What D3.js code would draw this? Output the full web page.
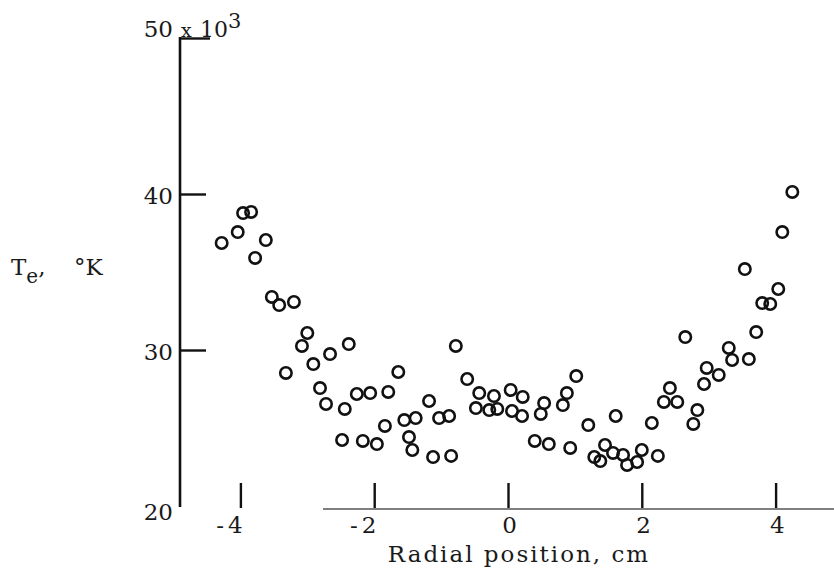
<!DOCTYPE html>
<meta charset="utf-8" />
<style>
  body {
    margin: 0;
    background: #fff;
  }
  svg {
    display: block;
    background: #fff;
  }
  .lbl,
  .axis text {
    font-family: "DejaVu Serif", "Liberation Serif", serif;
    font-size: 23px;
    fill: #1a1a1a;
  }
  .axis path {
    display: none;
  }
  .axis line {
    stroke: #111;
    stroke-width: 2.4;
  }
  .pt {
    fill: none;
    stroke: #111;
    stroke-width: 2.6;
  }
</style>
<svg width="834" height="582"></svg>
<script src="https://cdn.jsdelivr.net/npm/d3@7"></script>
<script>
  // radial position (cm) and electron temperature (thousands of K)
  var radialPos = [
    -4.28, -4.04, -3.96, -3.84, -3.78, -3.62, -3.53, -3.42, -3.2, -3.32,
    -3.08, -3.0, -2.91, -2.81, -2.72, -2.66, -2.48, -2.44, -2.38, -2.26,
    -2.17, -2.06, -1.96, -1.84, -1.79, -1.64, -1.55, -1.48, -1.43, -1.38,
    -1.18, -1.12, -1.03, -0.88, -0.85, -0.78, -0.61, -0.48, -0.43, -0.28,
    -0.21, -0.16, 0.04, 0.06, 0.22, 0.21, 0.4, 0.49, 0.54, 0.61,
    0.82, 0.88, 0.93, 1.02, 1.2, 1.29, 1.38, 1.45, 1.57, 1.61,
    1.72, 1.78, 1.93, 2.0, 2.15, 2.24, 2.33, 2.42, 2.53, 2.65,
    2.77, 2.83, 2.93, 2.97, 3.15, 3.3, 3.35, 3.54, 3.6, 3.71,
    3.8, 3.92, 4.04, 4.1, 4.25
  ];
  var tempK = [
    36.86, 37.56, 38.78, 38.85, 35.9, 37.05, 33.4, 32.88, 33.08, 28.53,
    30.26, 31.09, 29.1, 27.56, 26.54, 29.74, 24.23, 26.22, 30.38, 27.18,
    24.17, 27.24, 23.97, 25.13, 27.31, 28.59, 25.51, 24.42, 23.59, 25.64,
    26.73, 23.14, 25.64, 25.77, 23.21, 30.26, 28.14, 26.28, 27.24, 26.15,
    27.05, 26.22, 27.44, 26.09, 26.99, 25.77, 24.17, 25.9, 26.6, 23.97,
    26.47, 27.24, 23.72, 28.33, 25.19, 23.14, 22.88, 23.91, 23.4, 25.77,
    23.27, 22.63, 22.82, 23.59, 25.32, 23.21, 26.67, 27.56, 26.67, 30.83,
    25.26, 26.15, 27.82, 28.85, 28.4, 30.13, 29.36, 35.19, 29.42, 31.15,
    33.01, 32.95, 33.91, 37.56, 40.13
  ];
  var xTicks = [-4, -2, 0, 2, 4];
  var yTicks = [20, 30, 40, 50];

  var svg = d3.select("svg");

  var x = d3.scaleLinear().domain([-4, 4]).range([240.4, 775.6]);
  var y = d3.scaleLinear().domain([20, 50]).range([506, 38]);

  // y axis line
  svg.append("line")
    .attr("x1", 180).attr("x2", 180)
    .attr("y1", y(50) - 1).attr("y2", y(20) + 1)
    .attr("stroke", "#111").attr("stroke-width", 2.6);

  var yAxis = d3.axisLeft(y)
    .tickValues(yTicks)
    .tickSizeInner(-26)
    .tickSizeOuter(0)
    .tickPadding(7)
    .tickFormat(function(d) { return d; });

  var gy = svg.append("g")
    .attr("class", "axis")
    .attr("transform", "translate(180,0)")
    .call(yAxis);

  gy.selectAll(".tick")
    .filter(function(d) { return d == 20; })
    .select("line").remove();
  gy.selectAll(".tick")
    .filter(function(d) { return d == 50; })
    .select("line").attr("x2", 30);
  gy.selectAll(".tick text")
    .attr("dy", function(d) {
      if (d == 50) return "-0.05em";
      if (d == 20) return "0.6em";
      return "0.4em";
    });

  // x 10^3 multiplier
  svg.append("text").attr("class", "lbl")
    .attr("x", 181).attr("y", y(50) - 1)
    .style("font-size", "19px")
    .text("x");
  svg.append("text").attr("class", "lbl")
    .attr("x", 200).attr("y", y(50) - 1)
    .style("font-size", "22px")
    .text("10");
  svg.append("text").attr("class", "lbl")
    .attr("x", 228).attr("y", y(50) - 10)
    .style("font-size", "21px")
    .text("3");

  // x axis baseline (partial, as in the print)
  svg.append("line")
    .attr("x1", 323).attr("x2", 834)
    .attr("y1", 509).attr("y2", 509)
    .attr("stroke", "#555").attr("stroke-width", 1.6);

  var xAxis = d3.axisBottom(x)
    .tickValues(xTicks)
    .tickSizeInner(-25)
    .tickSizeOuter(0)
    .tickPadding(9)
    .tickFormat(function(d) { return d < 0 ? "-" + Math.abs(d) : d; });

  var gx = svg.append("g")
    .attr("class", "axis")
    .attr("transform", "translate(0,508)")
    .call(xAxis);

  gx.selectAll(".tick line").attr("stroke-width", 2.8);
  gx.selectAll(".tick text")
    .attr("text-anchor", function(d) { return d < 0 ? "end" : "middle"; })
    .attr("letter-spacing", function(d) { return d < 0 ? "4px" : null; })
    .attr("dx", function(d) { return d < 0 ? "0.25em" : "0.05em"; });

  svg.append("text").attr("class", "lbl")
    .attr("x", 519).attr("y", 562)
    .attr("text-anchor", "middle")
    .attr("letter-spacing", "2px")
    .text("Radial position, cm");

  // y label: T_e, °K
  var yl = svg.append("text").attr("class", "lbl")
    .attr("x", 11).attr("y", 275);
  yl.append("tspan").text("T");
  yl.append("tspan").attr("dy", 8).style("font-size", "20px").text("e");
  yl.append("tspan").attr("dy", -8).text(",");
  svg.append("text").attr("class", "lbl")
    .attr("x", 74).attr("y", 275)
    .text("\u00b0K");

  svg.append("g")
    .selectAll("circle")
    .data(radialPos)
    .enter()
    .append("circle")
    .attr("class", "pt")
    .attr("r", 5.7)
    .attr("cx", function(d) { return x(d); })
    .attr("cy", function(d, i) { return y(tempK[i]); });
</script>
